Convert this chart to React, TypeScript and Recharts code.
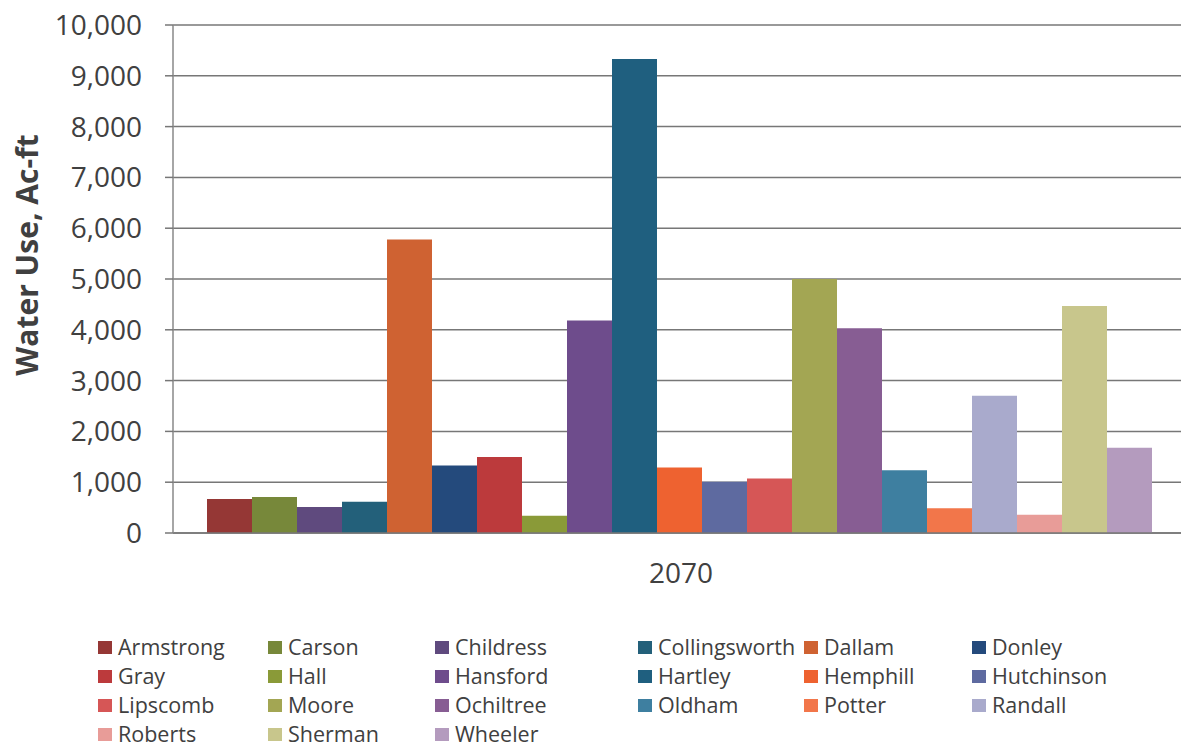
import { Bar, BarChart, CartesianGrid, XAxis, YAxis } from "recharts";

const counties = [
  "Armstrong", "Carson", "Childress", "Collingsworth", "Dallam", "Donley",
  "Gray", "Hall", "Hansford", "Hartley", "Hemphill", "Hutchinson",
  "Lipscomb", "Moore", "Ochiltree", "Oldham", "Potter", "Randall",
  "Roberts", "Sherman", "Wheeler",
];

const use2070 = [
  670, 710, 510, 615, 5780, 1330,
  1495, 340, 4185, 9330, 1290, 1010,
  1075, 5000, 4030, 1235, 486, 2703,
  360, 4470, 1680,
];

const yTicks = [0, 1000, 2000, 3000, 4000, 5000, 6000, 7000, 8000, 9000, 10000];

const colors = [
  "#953735", "#77883A", "#5F4A7E", "#23607A", "#CF6232", "#244A7C",
  "#BC3A3C", "#8A9A38", "#6E4C8C", "#1F5F7F", "#EE6230", "#5E6AA0",
  "#D65656", "#A3A653", "#875D93", "#3E7FA0", "#F2764A", "#A9AACC",
  "#E89C98", "#C8C68C", "#B49BBE",
];

const data = [
  Object.fromEntries([["year", "2070"], ...counties.map((c, i) => [c, use2070[i]])]),
];

const legendCols = [98, 268, 435, 638, 804, 972];
const legendRows = [647, 676, 705, 734];

const textColor = "#404040";
const font = "'Open Sans', sans-serif";

function YLabel() {
  return (
    <text
      x={38}
      y={255}
      transform="rotate(-90 38 255)"
      textAnchor="middle"
      fontFamily={font}
      fontSize={30}
      fontWeight={700}
      fill={textColor}
    >
      Water Use, Ac-ft
    </text>
  );
}

export default function App() {
  return (
    <div
      style={{
        position: "fixed",
        left: 0,
        top: 0,
        width: 1181,
        height: 747,
        overflow: "hidden",
        background: "#ffffff",
        fontFamily: font,
      }}
    >
      <BarChart
        width={1189}
        height={600}
        data={data}
        margin={{ top: 25, right: 0, left: 0, bottom: 0 }}
        barCategoryGap={34}
        barGap={0}
      >
        <CartesianGrid vertical={false} stroke="#777" strokeWidth={1.5} />
        <XAxis
          dataKey="year"
          height={67}
          axisLine={{ stroke: "#777", strokeWidth: 1.5 }}
          tickLine={false}
          tickMargin={24}
          tick={{ fill: textColor, fontSize: 28, fontFamily: font }}
        />
        <YAxis
          width={173}
          domain={[0, 10000]}
          ticks={yTicks}
          interval={0}
          axisLine={{ stroke: "#888", strokeWidth: 1.5 }}
          tickLine={{ stroke: "#777", strokeWidth: 1.5 }}
          tickSize={8}
          tickMargin={23}
          tick={{ fill: textColor, fontSize: 28, fontFamily: font }}
          tickFormatter={(v: number) => v.toLocaleString("en-US")}
          label={<YLabel />}
        />
        {counties.map((c, i) => (
          <Bar key={c} dataKey={c} fill={colors[i]} isAnimationActive={false} />
        ))}
      </BarChart>
      {counties.map((c, i) => {
        const col = i % 6;
        const row = Math.floor(i / 6);
        return (
          <div
            key={c}
            style={{
              position: "absolute",
              left: legendCols[col],
              top: legendRows[row] - 12,
              height: 24,
              lineHeight: "24px",
              display: "flex",
              alignItems: "center",
              gap: 6,
              fontSize: 21.5,
              color: textColor,
              whiteSpace: "nowrap",
            }}
          >
            <span style={{ width: 14, height: 13, background: colors[i], display: "inline-block" }} />
            <span>{c}</span>
          </div>
        );
      })}
    </div>
  );
}
